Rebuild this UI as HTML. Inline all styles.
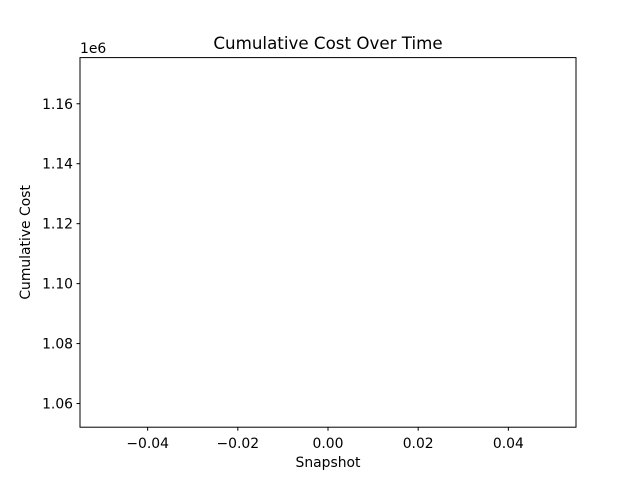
<!DOCTYPE html>
<html><head><meta charset="utf-8"><style>
body{margin:0;background:#fff;}
svg text{font-family:"DejaVu Sans","Liberation Sans",sans-serif;fill:#000;}
</style></head><body>
<svg id="chart" width="640" height="480" viewBox="0 0 640 480">
<rect x="0" y="0" width="640" height="480" fill="#fff"/>
<text x="328" y="49" font-size="16.7" text-anchor="middle">Cumulative Cost Over Time</text>
<g id="xticks"></g><g id="yticks"></g><g id="series"></g>
<rect x="80" y="57.6" width="496" height="369.6" fill="none" stroke="#000" stroke-width="1"/>
<text x="328" y="467" font-size="13.9" text-anchor="middle">Snapshot</text>
<text transform="translate(30,242.4) rotate(-90)" font-size="13.9" text-anchor="middle">Cumulative Cost</text>
<text x="80" y="53" font-size="13.9">1e6</text>
</svg>
<script>
const snapshots=[0];
const costs=[1.11375];
const xTickValues=[-0.04,-0.02,0,0.02,0.04];
const xTickLabels=["\u22120.04","\u22120.02","0.00","0.02","0.04"];
const yTickValues=[1.06,1.08,1.10,1.12,1.14,1.16];
const yTickLabels=["1.06","1.08","1.10","1.12","1.14","1.16"];
const L=80,R=576,T=57.6,B=427.2;
const xmin=-0.055,xmax=0.055,ymin=1.0521,ymax=1.1754;
const sx=v=>L+(v-xmin)/(xmax-xmin)*(R-L);
const sy=v=>B-(v-ymin)/(ymax-ymin)*(B-T);
const NS="http://www.w3.org/2000/svg";
const xg=document.getElementById('xticks'),yg=document.getElementById('yticks'),sg=document.getElementById('series');
xTickValues.forEach((v,i)=>{
 const l=document.createElementNS(NS,'line');
 l.setAttribute('x1',sx(v));l.setAttribute('x2',sx(v));l.setAttribute('y1',B);l.setAttribute('y2',B+3.5);l.setAttribute('stroke','#000');
 
 
 xg.appendChild(l);
 const t=document.createElementNS(NS,'text');
 t.setAttribute('x',sx(v));t.setAttribute('y',B+21);t.setAttribute('font-size','13.9');t.setAttribute('text-anchor','middle');
 t.textContent=xTickLabels[i];
 
 
 xg.appendChild(t);
});
yTickValues.forEach((v,i)=>{
 const l=document.createElementNS(NS,'line');
 l.setAttribute('x1',L-3.5);l.setAttribute('x2',L);l.setAttribute('y1',sy(v));l.setAttribute('y2',sy(v));l.setAttribute('stroke','#000');
 
 
 yg.appendChild(l);
 const t=document.createElementNS(NS,'text');
 t.setAttribute('x',L-7);t.setAttribute('y',sy(v)+5);t.setAttribute('font-size','13.9');t.setAttribute('text-anchor','end');
 t.textContent=yTickLabels[i];
 
 
 yg.appendChild(t);
});
const p=document.createElementNS(NS,'path');
p.setAttribute('d',snapshots.map((s,i)=>(i?'L':'M')+sx(s)+' '+sy(costs[i])).join(' '));
p.setAttribute('fill','none');p.setAttribute('stroke','#1f77b4');p.setAttribute('stroke-width','1.5');


sg.appendChild(p);
</script>
</body></html>
